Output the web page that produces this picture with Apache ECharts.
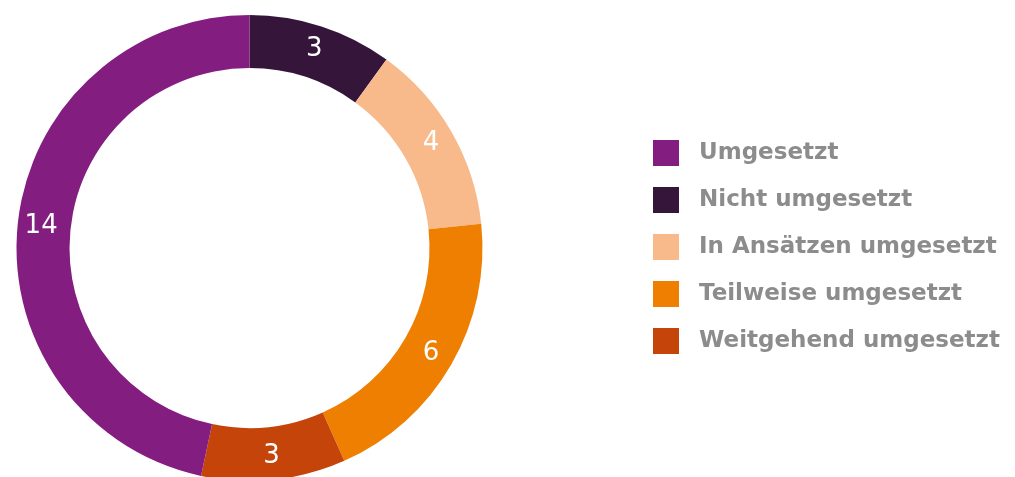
<!DOCTYPE html>
<html><head><meta charset="utf-8">
<script src="https://cdn.jsdelivr.net/npm/echarts@6/dist/echarts.min.js"></script>
<style>html,body{margin:0;padding:0;background:#fff}#c{width:1015px;height:477px}</style>
</head><body><div id="c"></div>
<script>
// Data in clockwise order from 12 o'clock
const categories = ['Nicht umgesetzt','In Ansätzen umgesetzt','Teilweise umgesetzt','Weitgehend umgesetzt','Umgesetzt'];
const values = [3, 4, 6, 3, 14];
const colors = ['#36153A','#F8BA8A','#EF7F00','#C4440A','#831D80'];
const legendOrder = ['Umgesetzt','Nicht umgesetzt','In Ansätzen umgesetzt','Teilweise umgesetzt','Weitgehend umgesetzt'];

const chart = echarts.init(document.getElementById('c'), null, {renderer:'canvas'});
chart.setOption({
  animation:false,
  legend:{
    orient:'vertical', left:653, top:140, padding:0,
    itemWidth:26, itemHeight:26, itemGap:21, icon:'rect',
    data:legendOrder,
    textStyle:{color:'#8c8c8c', fontSize:23, fontFamily:'DejaVu Sans', fontWeight:'bold', padding:[0,0,0,15]}
  },
  series:[{
    type:'pie', center:[249.5,248], radius:[180,233], startAngle:90, clockwise:true,
    avoidLabelOverlap:false,
    label:{show:true, position:'inside', formatter:'{c}', color:'#fff', fontSize:26, fontFamily:'DejaVu Sans'},
    labelLine:{show:false},
    itemStyle:{borderWidth:0},
    emphasis:{disabled:true},
    data:categories.map((n,i)=>({name:n, value:values[i], itemStyle:{color:colors[i]}}))
  }]
});
</script></body></html>
